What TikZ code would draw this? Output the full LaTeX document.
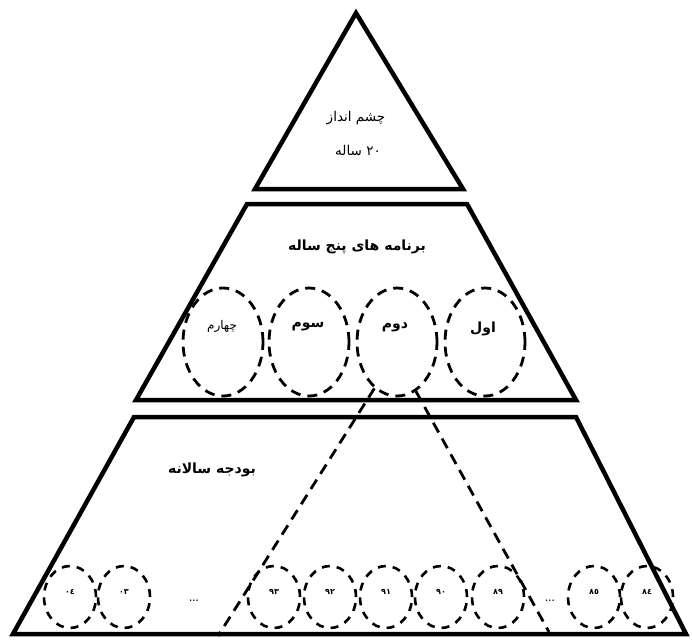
\documentclass[tikz,border=0pt]{standalone}
\usepackage{fontspec}
\usetikzlibrary{shapes.geometric}
\TeXXeTstate=1
\newfontfamily\arabicfont[Script=Arabic]{DejaVu Sans}
\begin{document}
\begin{tikzpicture}[x=1pt,y=-1pt,
  border/.style={line width=4.5pt, line join=miter},
  dashring/.style={draw, ellipse, line width=2.8pt, dash pattern=on 10pt off 7pt, inner sep=0pt},
  bigring/.style={dashring, minimum width=80pt, minimum height=108pt},
  yearring/.style={dashring, minimum width=52pt, minimum height=62pt, line width=2.6pt, dash pattern=on 8pt off 7pt},
  fatxt/.style={font=\arabicfont\fontsize{13.5}{16}\selectfont, inner sep=0pt},
  fabold/.style={font=\arabicfont\bfseries\fontsize{14}{17}\selectfont, inner sep=0pt},
  yeartxt/.style={font=\arabicfont\bfseries\fontsize{8}{10}\selectfont, inner sep=0pt},
  dotstxt/.style={font=\bfseries\fontsize{10}{12}\selectfont, inner sep=0pt},
  link/.style={line width=2.8pt, dash pattern=on 11pt off 7pt}]
\useasboundingbox (0,0) rectangle (692,639);
% top triangle
\draw[border] (255,189) -- (356,13) -- (463,189) -- cycle;
\node[fatxt] (vision) at (356,118) {\beginR چشم انداز\endR};
\node[fatxt] (years20) at (358,150) {\beginR ساله\endR\ ٢٠};
% middle trapezoid
\draw[border] (247,204) -- (467,204) -- (576,400) -- (136,400) -- cycle;
\node[fabold] (plans) at (357,247) {\beginR برنامه های پنج ساله\endR};
\node[bigring] (c1) at (485,342) {};
\node[bigring] (c2) at (397,342) {};
\node[bigring] (c3) at (309,342) {};
\node[bigring] (c4) at (223,342) {};
\node[fabold] (t1) at (483,329) {\beginR اول\endR};
\node[fabold] (t2) at (395,327) {\beginR دوم\endR};
\node[fabold] (t3) at (308,327) {\beginR سوم\endR};
\node[font=\arabicfont\fontsize{12}{14}\selectfont, inner sep=0pt] (t4) at (222,326) {\beginR چهارم\endR};
% bottom trapezoid
\draw[border] (134,417) -- (576,417) -- (686,634) -- (13,634) -- cycle;
\node[fabold] (budget) at (212,470) {\beginR بودجه سالانه\endR};
% year rings
\node[yearring] (y04) at (70,597) {};
\node[yearring] (y03) at (124,597) {};
\node[yearring] (y93) at (274,597) {};
\node[yearring] (y92) at (330,597) {};
\node[yearring] (y91) at (386,597) {};
\node[yearring] (y90) at (441,597) {};
\node[yearring] (y89) at (498,597) {};
\node[yearring] (y85) at (594,597) {};
\node[yearring] (y84) at (647,597) {};
\node[yeartxt] at (70,592) {٠٤};
\node[yeartxt] at (124,592) {٠٣};
\node[yeartxt] at (274,592) {٩٣};
\node[yeartxt] at (330,592) {٩٢};
\node[yeartxt] at (386,592) {٩١};
\node[yeartxt] at (441,592) {٩٠};
\node[yeartxt] at (498,592) {٨٩};
\node[yeartxt] at (594,592) {٨٥};
\node[yeartxt] at (647,592) {٨٤};
\node[dotstxt] (dotsL) at (194,601) {...};
\node[dotstxt] (dotsR) at (550,601) {...};
% links from second plan to its years
\coordinate (endL) at (218,636);
\coordinate (endR) at (549,632);
\draw[link] (c2.244) -- (endL);
\draw[link] (c2.291) -- (endR);
\end{tikzpicture}
\end{document}
